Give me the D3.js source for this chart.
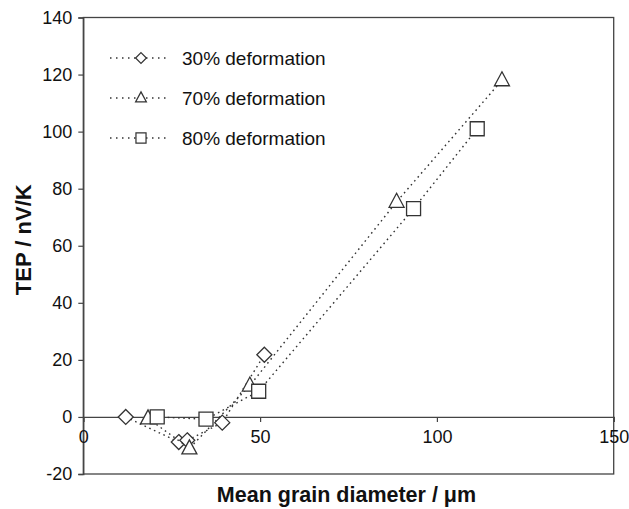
<!DOCTYPE html>
<html>
<head>
<meta charset="utf-8">
<script src="https://cdn.jsdelivr.net/npm/d3@7"></script>
<style>
  html, body { margin: 0; padding: 0; background: #fff; }
  svg { display: block; }
  text { font-family: "Liberation Sans", Arial, Helvetica, sans-serif; fill: #111; }
</style>
</head>
<body>
<svg id="chart" width="629" height="509"></svg>
<script>
// ---- data ----
const seriesNames = ["30% deformation", "70% deformation", "80% deformation"];
const x30 = [12.0, 27.0, 29.4, 39.3, 51.2];
const y30 = [0, -8.8, -8.2, -2.0, 21.8];
const x70 = [18.3, 30.0, 47.1, 88.6, 118.4];
const y70 = [-0.5, -11, 11, 75.4, 118];
const x80 = [20.9, 34.7, 49.6, 93.4, 111.4];
const y80 = [0, -0.8, 9, 73, 101];
const xTicks = [0, 50, 100, 150];
const yTicks = [-20, 0, 20, 40, 60, 80, 100, 120, 140];
const xTitle = "Mean grain diameter / \u03bcm";
const yTitle = "TEP / nV/K";

// ---- layout ----
const W = 629, H = 509;
const m = { left: 83.3, right: 629 - 613.7, top: 17.5, bottom: 509 - 474 };
const svg = d3.select("#chart");
const x = d3.scaleLinear().domain([0, 150]).range([m.left, W - m.right]);
const y = d3.scaleLinear().domain([-20, 140]).range([H - m.bottom, m.top]);
const ink = "#333";
const fmt = d => String(d);

// frame
svg.append("rect")
  .attr("x", x(0)).attr("y", y(140))
  .attr("width", x(150) - x(0)).attr("height", y(-20) - y(140))
  .attr("fill", "none").attr("stroke", "#444").attr("stroke-width", 1.3);

// y axis
const gy = svg.append("g").attr("transform", `translate(${x(0)},0)`)
  .call(d3.axisLeft(y).tickValues(yTicks).tickSize(5).tickPadding(6).tickFormat(fmt));
gy.select(".domain").attr("stroke", "#444").attr("stroke-width", 1.3);
gy.selectAll(".tick line").attr("stroke", "#444").attr("stroke-width", 1.2);
gy.selectAll(".tick text").style("font-size", "18px").attr("fill", "#111");

// x axis at y=0
const gx = svg.append("g").attr("transform", `translate(0,${y(0)})`)
  .call(d3.axisBottom(x).tickValues(xTicks).tickSize(5).tickPadding(8).tickFormat(fmt));
gx.select(".domain").attr("stroke", "#444").attr("stroke-width", 1.3);
gx.selectAll(".tick line").attr("stroke", "#444").attr("stroke-width", 1.2);
gx.selectAll(".tick text").style("font-size", "18px").attr("fill", "#111");

// axis titles
svg.append("text")
  .attr("x", (x(0) + x(150)) / 2 - 2).attr("y", 502)
  .attr("text-anchor", "middle")
  .style("font-size", "21.5px").style("font-weight", "bold")
  .text(xTitle);
svg.append("text")
  .attr("transform", `translate(31,${(y(-20) + y(140)) / 2 - 6}) rotate(-90)`)
  .attr("text-anchor", "middle")
  .style("font-size", "22px").style("font-weight", "bold")
  .text(yTitle);

// marker shapes
function markerPath(type) {
  if (type === "diamond") return "M0,-7.5L7.5,0L0,7.5L-7.5,0Z";
  if (type === "triangle") return "M0,-8.5L7.5,5.5L-7.5,5.5Z";
  return "M-7,-7H7V7H-7Z";
}
const series = [
  { name: seriesNames[0], xs: x30, ys: y30, shape: "diamond" },
  { name: seriesNames[1], xs: x70, ys: y70, shape: "triangle" },
  { name: seriesNames[2], xs: x80, ys: y80, shape: "square" }
];
const line = d3.line().x(d => x(d[0])).y(d => y(d[1]));
const dash = "1.6,3.6";

series.forEach(s => {
  const pts = s.xs.map((v, i) => [v, s.ys[i]]);
  svg.append("path").datum(pts)
    .attr("d", line).attr("fill", "none")
    .attr("stroke", ink).attr("stroke-width", 1.4)
    .attr("stroke-dasharray", dash);
  svg.append("g").selectAll("path").data(pts).join("path")
    .attr("transform", d => `translate(${x(d[0])},${y(d[1])})`)
    .attr("d", markerPath(s.shape))
    .attr("fill", "#fff").attr("stroke", ink).attr("stroke-width", 1.3);
});

// legend
const legY = [58, 98, 138];
series.forEach((s, i) => {
  const g = svg.append("g").attr("transform", `translate(0,${legY[i]})`);
  g.append("line").attr("x1", 110).attr("x2", 170).attr("y1", 0).attr("y2", 0)
    .attr("stroke", ink).attr("stroke-width", 1.4).attr("stroke-dasharray", "1.5,4.5");
  g.append("path").attr("transform", "translate(141,0) scale(0.72)")
    .attr("d", markerPath(s.shape))
    .attr("fill", "#fff").attr("stroke", ink).attr("stroke-width", 1.7);
  g.append("text").attr("x", 182).attr("y", 0).attr("dy", "0.35em")
    .style("font-size", "19px").text(s.name);
});
</script>
</body>
</html>
